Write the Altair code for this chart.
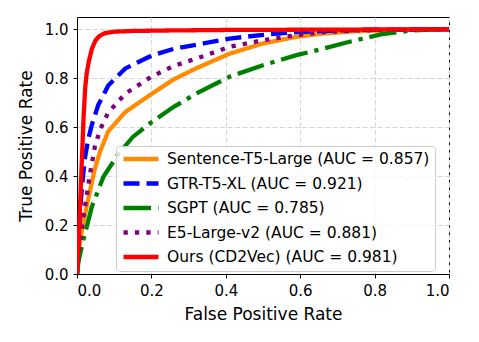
import altair as alt
import pandas as pd

series = ["Sentence-T5-Large (AUC = 0.857)", "GTR-T5-XL (AUC = 0.921)",
          "SGPT (AUC = 0.785)", "E5-Large-v2 (AUC = 0.881)", "Ours (CD2Vec) (AUC = 0.981)"]
colors = ["#ff8c00", "#0000ff", "#008000", "#800080", "#ff0000"]
dashes = [[1, 0], [16, 7], [27.5, 6.9, 4.3, 6.9], [4.3, 7.1], [1, 0]]

fpr_st5 = [0, 0.004, 0.01, 0.017, 0.026, 0.035, 0.048, 0.062, 0.084, 0.13, 0.2, 0.26, 0.32, 0.41, 0.5, 0.59, 0.66, 0.75, 0.85, 1.0]
tpr_st5 = [0, 0.08, 0.15, 0.21, 0.275, 0.34, 0.43, 0.5, 0.583, 0.662, 0.735, 0.795, 0.84, 0.9, 0.942, 0.969, 0.982, 0.992, 0.997, 1.0]

fpr_gtr = [0, 0.003, 0.008, 0.012, 0.017, 0.022, 0.03, 0.04, 0.057, 0.084, 0.13, 0.2, 0.26, 0.34, 0.41, 0.5, 0.6, 0.7, 0.8, 0.9, 1.0]
tpr_gtr = [0, 0.1, 0.25, 0.33, 0.41, 0.48, 0.55, 0.61, 0.69, 0.77, 0.84, 0.892, 0.92, 0.942, 0.962, 0.977, 0.989, 0.995, 0.998, 0.999, 1.0]

fpr_sgpt = [0, 0.003, 0.008, 0.017, 0.04, 0.071, 0.111, 0.15, 0.2, 0.26, 0.32, 0.41, 0.5, 0.59, 0.66, 0.73, 0.82, 0.9, 0.95, 1.0]
tpr_sgpt = [0, 0.04, 0.08, 0.139, 0.275, 0.397, 0.49, 0.56, 0.62, 0.683, 0.737, 0.806, 0.853, 0.894, 0.92, 0.948, 0.98, 0.995, 0.999, 1.0]

fpr_e5 = [0, 0.004, 0.01, 0.0215, 0.035, 0.048, 0.062, 0.084, 0.13, 0.2, 0.26, 0.34, 0.41, 0.5, 0.59, 0.66, 0.75, 0.85, 1.0]
tpr_e5 = [0, 0.08, 0.16, 0.275, 0.41, 0.52, 0.59, 0.66, 0.737, 0.806, 0.85, 0.89, 0.928, 0.955, 0.976, 0.988, 0.995, 0.998, 1.0]

fpr_ours = [0, 0.002, 0.006, 0.01, 0.014, 0.018, 0.022, 0.026, 0.032, 0.04, 0.05, 0.06, 0.075, 0.1, 0.15, 0.25, 0.4, 0.6, 0.8, 1.0]
tpr_ours = [0, 0.05, 0.2, 0.35, 0.5, 0.65, 0.76, 0.82, 0.87, 0.92, 0.955, 0.972, 0.984, 0.99, 0.993, 0.995, 0.997, 0.998, 0.999, 1.0]

curves = [(fpr_st5, tpr_st5), (fpr_gtr, tpr_gtr), (fpr_sgpt, tpr_sgpt), (fpr_e5, tpr_e5), (fpr_ours, tpr_ours)]
rows = []
for k, (name, (fx, ty)) in enumerate(zip(series, curves)):
    for i, (a, b) in enumerate(zip(fx, ty)):
        rows.append({"model": name, "fpr": a, "tpr": b, "idx": i, "k": k})
df = pd.DataFrame(rows)

ticks = [0, 0.2, 0.4, 0.6, 0.8, 1.0]
font = "DejaVu Sans"

axis_common = dict(values=ticks, format=".1f", grid=True, gridDash=[5, 2.5], gridColor="#d6d6d6",
                   gridWidth=1, tickSize=4, tickColor="black", domainColor="black",
                   labelFont=font, labelFontSize=15, labelColor="black",
                   titleFont=font, titleFontSize=17, titleFontWeight="normal", titleColor="black")

legend_opts = dict(orient="none", legendX=39, legendY=129, title=None,
                   symbolType="stroke", symbolSize=1225, symbolStrokeWidth=4.3,
                   clipHeight=16, rowPadding=7.5, padding=5, labelOffset=6,
                   labelFont=font, labelFontSize=15.5, labelColor="black",
                   labelLimit=400, strokeColor="#cccccc", cornerRadius=3,
                   fillColor="rgba(255,255,255,0.8)")

chart = alt.Chart(df).mark_line(strokeWidth=4.3, clip=True).encode(
    x=alt.X("fpr:Q", scale=alt.Scale(domain=[0, 1], nice=False, zero=False),
            axis=alt.Axis(title="False Positive Rate", labelPadding=5, titlePadding=8, **axis_common)),
    y=alt.Y("tpr:Q", scale=alt.Scale(domain=[0, 1.05], nice=False),
            axis=alt.Axis(title="True Positive Rate", labelPadding=5, titlePadding=9, **axis_common)),
    color=alt.Color("model:N", scale=alt.Scale(domain=series, range=colors),
                    legend=alt.Legend(**legend_opts)),
    strokeDash=alt.StrokeDash("model:N", scale=alt.Scale(domain=series, range=dashes),
                              legend=alt.Legend(**legend_opts)),
    order=alt.Order("idx:Q"),
).properties(
    width=372, height=257,
    autosize=alt.AutoSizeParams(type="none"),
    padding={"left": 69, "top": 9, "right": 22, "bottom": 60},
).configure_view(stroke="black", strokeWidth=1)

chart.save("out.html", embed_options={"renderer": "svg", "actions": False})
